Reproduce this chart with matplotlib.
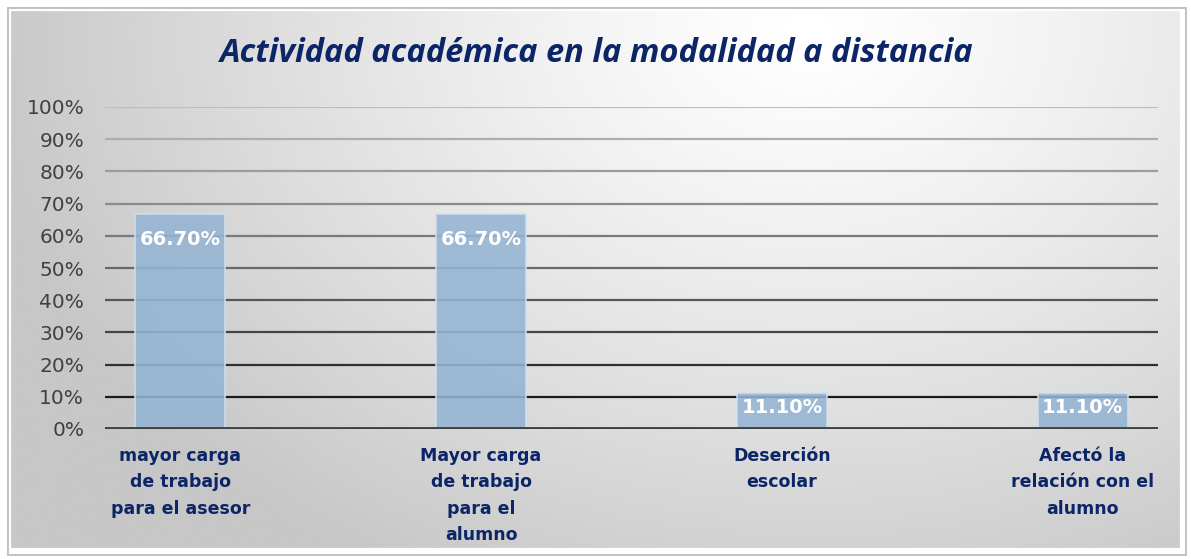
import numpy as np
import matplotlib
matplotlib.use('Agg')
import matplotlib.pyplot as plt
from matplotlib.patches import Rectangle

# data
categories = ['mayor carga\nde trabajo\npara el asesor',
              'Mayor carga\nde trabajo\npara el\nalumno',
              'Deserción\nescolar',
              'Afectó la\nrelación con el\nalumno']
values = [66.7, 66.7, 11.1, 11.1]
value_labels = ['66.70%', '66.70%', '11.10%', '11.10%']
yticks = list(range(0, 101, 10))
title = 'Actividad académica en la modalidad a distancia'

navy = '#0B2567'

fig = plt.figure(figsize=(11.91, 5.59), dpi=100)

# background: soft gradient, white near top center, light gray at edges
bg = fig.add_axes([0, 0, 1, 1], zorder=0)
gx, gy = np.meshgrid(np.linspace(0, 1, 400), np.linspace(0, 1, 200))
d = np.sqrt(((gx - 0.68) / 1.0) ** 2 + ((gy - 0.05) / 1.6) ** 2)
shade = 1.0 - 0.22 * np.clip(d / 0.7, 0, 1) ** 1.2
bg.imshow(shade, cmap='gray', vmin=0, vmax=1, aspect='auto',
          extent=[0, 1, 1, 0], interpolation='bicubic')
bg.set_xlim(0, 1)
bg.set_ylim(1, 0)
bg.axis('off')
# outer white margin + thin border
bg.add_patch(Rectangle((0, 0), 1, 1, transform=bg.transAxes, facecolor='none',
                       edgecolor='white', lw=16, zorder=2))
bg.add_patch(Rectangle((8 / 1191, 4 / 559), 1178 / 1191, 547 / 559,
                       transform=bg.transAxes, facecolor='none',
                       edgecolor='#C4C4C4', lw=1.5, zorder=3))

ax = fig.add_axes([105 / 1191, 1 - 429 / 559, 1053 / 1191, 322 / 559], zorder=1)
ax.patch.set_alpha(0)

x = np.arange(len(categories))
# gridlines get darker towards the bottom
for v in yticks[1:]:
    g = 0.74 * (v / 100) ** 0.85
    ax.axhline(v, color=str(g), lw=1.6, zorder=1)
ax.axhline(0, color='#404040', lw=3.5, zorder=4)

ax.bar(x, values, width=0.30, color='#94B4D2', alpha=0.88,
       edgecolor='#D2E0EE', linewidth=1.2, zorder=3)

for xi, v, lab in zip(x, values, value_labels):
    ax.text(xi, max(v - 7.8, v * 0.6), lab, ha='center', va='center',
            color='white', fontsize=14, fontweight='bold',
            family='DejaVu Sans', zorder=5)

ax.set_xlim(-0.25, 3.25)
ax.set_ylim(0, 100)
ax.set_yticks(yticks)
ax.set_yticklabels([f'{v}%' for v in yticks], fontsize=14.5, color='#404040')
ax.tick_params(axis='y', length=0, pad=15)
ax.set_xticks([])
for s in ax.spines.values():
    s.set_visible(False)

for xi, lab in zip(x, categories):
    ax.annotate(lab, (xi, 0), xytext=(0, -13), textcoords='offset points',
                ha='center', va='top', color=navy, fontsize=12.5,
                fontweight='bold', linespacing=1.6, annotation_clip=False)

fig.text(597 / 1191, 1 - 53 / 559, title, ha='center', va='center',
         color=navy, fontsize=23.5, fontweight='bold', style='italic',
         family='Open Sans')

fig.savefig('out.png', dpi=100)
